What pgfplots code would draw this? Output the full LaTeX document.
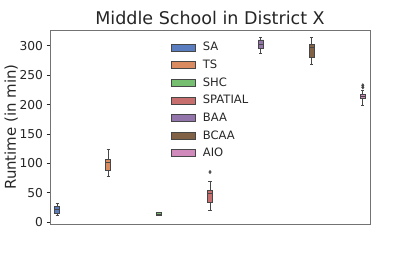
\documentclass[border=0pt]{standalone}
\usepackage{pgfplots}
\pgfplotsset{compat=1.18}
\usepackage{fontspec}
\setmainfont{DejaVu Sans}
\definecolor{cSA}{HTML}{597DBF}
\definecolor{cTS}{HTML}{DA8B5F}
\definecolor{cSHC}{HTML}{76BF71}
\definecolor{cSP}{HTML}{C76E6E}
\definecolor{cBAA}{HTML}{9375AB}
\definecolor{cBCAA}{HTML}{826246}
\definecolor{cAIO}{HTML}{D08ABB}
\definecolor{txt}{HTML}{262626}
\definecolor{edge}{HTML}{474747}
% #1 position, #2 lower whisker, #3 lower quartile, #4 median, #5 upper quartile, #6 upper whisker, #7 colour
\newcommand{\bx}[7]{%
  \pgfmathsetmacro\xL{#1-0.057}\pgfmathsetmacro\xR{#1+0.057}%
  \pgfmathsetmacro\cL{#1-0.034}\pgfmathsetmacro\cR{#1+0.034}%
  \edef\tmp{%
  \noexpand\addplot[draw=edge, line width=0.9bp, forget plot, unbounded coords=jump]
    coordinates {(#1,#5) (#1,#6) (#1,nan) (\cL,#6) (\cR,#6) (\cL,nan) (#1,#3) (#1,#2) (#1,nan) (\cL,#2) (\cR,#2)};
  \noexpand\addplot[draw=edge, fill=#7, line width=0.9bp, forget plot]
    coordinates {(\xL,#3) (\xR,#3) (\xR,#5) (\xL,#5) (\xL,#3)};
  \noexpand\addplot[draw=edge, line width=0.9bp, forget plot]
    coordinates {(\xL,#4) (\xR,#4)};}%
  \tmp}
\begin{document}
\begin{tikzpicture}
\begin{axis}[
  scale only axis,
  width=320bp, height=194bp,
  xmin=-0.5, xmax=6.5,
  ymin=-3, ymax=327,
  xtick=\empty,
  ytick={0,50,100,150,200,250,300},
  ytick pos=left,
  tick align=outside,
  major tick length=3.5bp,
  every tick/.style={draw=txt, line width=0.8bp},
  axis line style={draw=black!55, line width=0.9bp},
  tick label style={font=\fontsize{12.3}{14}\selectfont, text=txt},
  /pgf/number format/assume math mode=true,
  ylabel={Runtime (in min)},
  ylabel style={font=\fontsize{15}{17}\selectfont, text=txt, yshift=-5bp},
  title={Middle School in District X},
  title style={font=\fontsize{17.6}{20}\selectfont, text=txt, yshift=-4bp},
  legend style={at={(0.369,0.958)}, anchor=north west, draw=none, fill=none,
    font=\fontsize{11.6}{13}\selectfont, text=txt, row sep=3.6bp},
  legend cell align=left,
  legend image code/.code={\draw[#1] (0bp,-3.5bp) rectangle (24bp,3.5bp); \path (29bp,0bp);},
]
\addlegendimage{fill=cSA, draw=edge, line width=0.6bp}\addlegendentry{SA}
\addlegendimage{fill=cTS, draw=edge, line width=0.6bp}\addlegendentry{TS}
\addlegendimage{fill=cSHC, draw=edge, line width=0.6bp}\addlegendentry{SHC}
\addlegendimage{fill=cSP, draw=edge, line width=0.6bp}\addlegendentry{SPATIAL}
\addlegendimage{fill=cBAA, draw=edge, line width=0.6bp}\addlegendentry{BAA}
\addlegendimage{fill=cBCAA, draw=edge, line width=0.6bp}\addlegendentry{BCAA}
\addlegendimage{fill=cAIO, draw=edge, line width=0.6bp}\addlegendentry{AIO}

\bx{-0.343}{11.4}{14.7}{21.5}{27}{31.7}{cSA}
\bx{0.771}{78}{88}{101.7}{106}{123}{cTS}
\bx{1.886}{11}{12}{14}{16}{17.5}{cSHC}
\bx{3}{20.3}{33.9}{49.8}{54.2}{69.5}{cSP}
\bx{4.114}{287}{295.6}{302}{310}{315}{cBAA}
\bx{5.229}{268.5}{281}{298}{303}{314}{cBCAA}
\bx{6.343}{199.5}{211}{214.7}{218}{225}{cAIO}
\addplot[forget plot, only marks, mark=diamond*, mark size=1.7bp, mark options={fill=edge, draw=edge, line width=0.4bp}]
  coordinates {(3,85.4) (6.343,229.5) (6.343,233)};
\end{axis}
\path ([xshift=-50bp,yshift=-33bp]current axis.south west) rectangle ([xshift=41bp,yshift=30bp]current axis.north east);
\end{tikzpicture}
\end{document}
